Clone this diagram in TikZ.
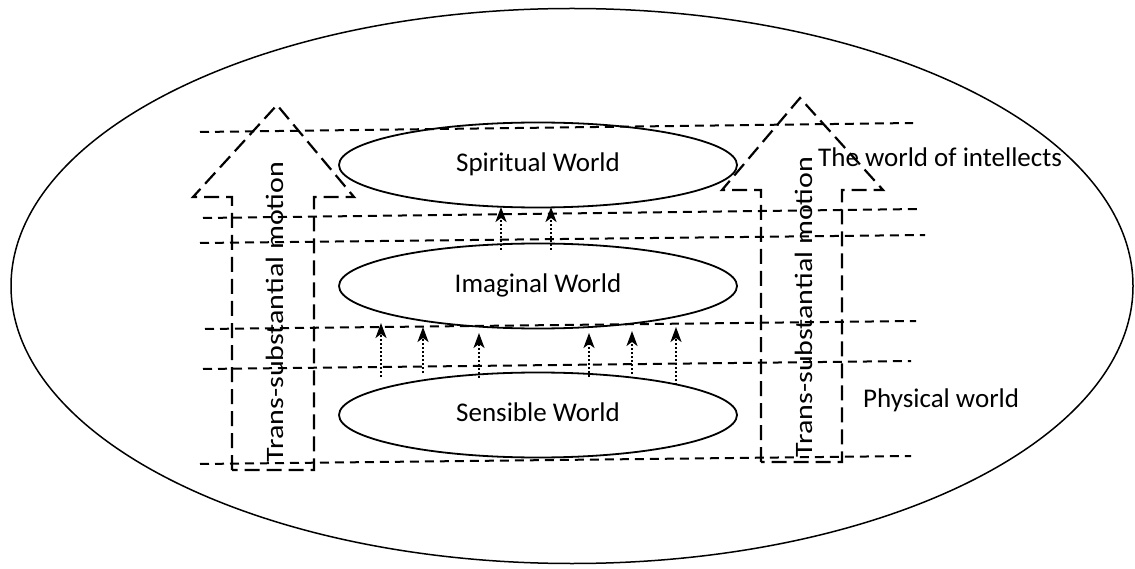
\documentclass[tikz,border=0pt]{standalone}
\usepackage{fontspec}
\setmainfont{Carlito}
\usetikzlibrary{shapes.geometric,arrows.meta}
\tikzset{
  world/.style={ellipse, draw, line width=1.8pt, minimum width=398pt, minimum height=85pt, inner sep=0pt,
    font=\fontsize{27}{30}\selectfont, text height=18pt, text depth=5pt},
  level/.style={line width=2pt, dash pattern=on 9pt off 6pt},
  bigarrow/.style={line width=2.2pt, dash pattern=on 15pt off 7pt, line join=miter},
  rise/.style={line width=1.8pt, dash pattern=on 1.6pt off 2.4pt, -{Stealth[length=15pt, width=11pt, inset=4pt]}},
  lbl/.style={font=\fontsize{27}{30}\selectfont, anchor=base, inner sep=0pt},
  vlbl/.style={font=\fontsize{25}{28}\selectfont, anchor=base, inner sep=0pt, rotate=90}
}
\begin{document}
\begin{tikzpicture}[x=1pt, y=-1pt]
\useasboundingbox (0,0) rectangle (1135,569);
% outer ellipse
\node[ellipse, draw, line width=1.5pt, minimum width=1122pt, minimum height=555pt, inner sep=0pt] (outer) at (572,286) {};

% level lines
\draw[level] (200,132) coordinate (l1a) -- (913,123) coordinate (l1b);
\draw[level] (203,218) coordinate (l2a) -- (920,209) coordinate (l2b);
\draw[level] (200,243) coordinate (l3a) -- (925,235) coordinate (l3b);
\draw[level] (205,329) coordinate (l4a) -- (916,321) coordinate (l4b);
\draw[level] (203,369) coordinate (l5a) -- (911,361) coordinate (l5b);
\draw[level] (200,464) coordinate (l6a) -- (911,456) coordinate (l6b);

% worlds
\node[world] (spirit) at (538,165) {Spiritual World};
\node[world] (imag) at (538,286) {Imaginal World};
\node[world] (sense) at (538,415) {Sensible World};

% big dashed arrows
\draw[bigarrow] (232,470) coordinate (la1) -- (232,197) -- (193,197) -- (277,105) coordinate (ltip) -- (354,197) -- (314,197) -- (314,470) -- cycle;
\draw[bigarrow] (761,462) coordinate (ra1) -- (761,190) -- (722,190) -- (800,98) coordinate (rtip) -- (883,190) -- (842,190) -- (842,462) -- cycle;

\node[vlbl] (lt) at (283,312) {\scalebox{1.2}[1]{Trans-substantial motion}};
\node[vlbl] (rt) at (812,307) {\scalebox{1.2}[1]{Trans-substantial motion}};

% dotted arrows imaginal -> spiritual
\coordinate (u1s) at (501,250); \coordinate (u1e) at (501,207);
\coordinate (u2s) at (551,250); \coordinate (u2e) at (551,207);
\draw[rise] (u1s) -- (u1e);
\draw[rise] (u2s) -- (u2e);

% dotted arrows sensible -> imaginal
\coordinate (d1s) at (381,377); \coordinate (d1e) at (381,323);
\coordinate (d2s) at (423,373); \coordinate (d2e) at (423,327);
\coordinate (d3s) at (479,378); \coordinate (d3e) at (479,333);
\coordinate (d4s) at (589,377); \coordinate (d4e) at (589,333);
\coordinate (d5s) at (632,374); \coordinate (d5e) at (632,331);
\coordinate (d6s) at (676,385); \coordinate (d6e) at (676,327);
\foreach \i in {1,...,6} {\draw[rise] (d\i s) -- (d\i e);}

% side labels
\node[lbl, anchor=base west] (intel) at (818,167) {The world of intellects};
\node[lbl, anchor=base west] (phys) at (863,407) {Physical world};
\end{tikzpicture}
\end{document}
